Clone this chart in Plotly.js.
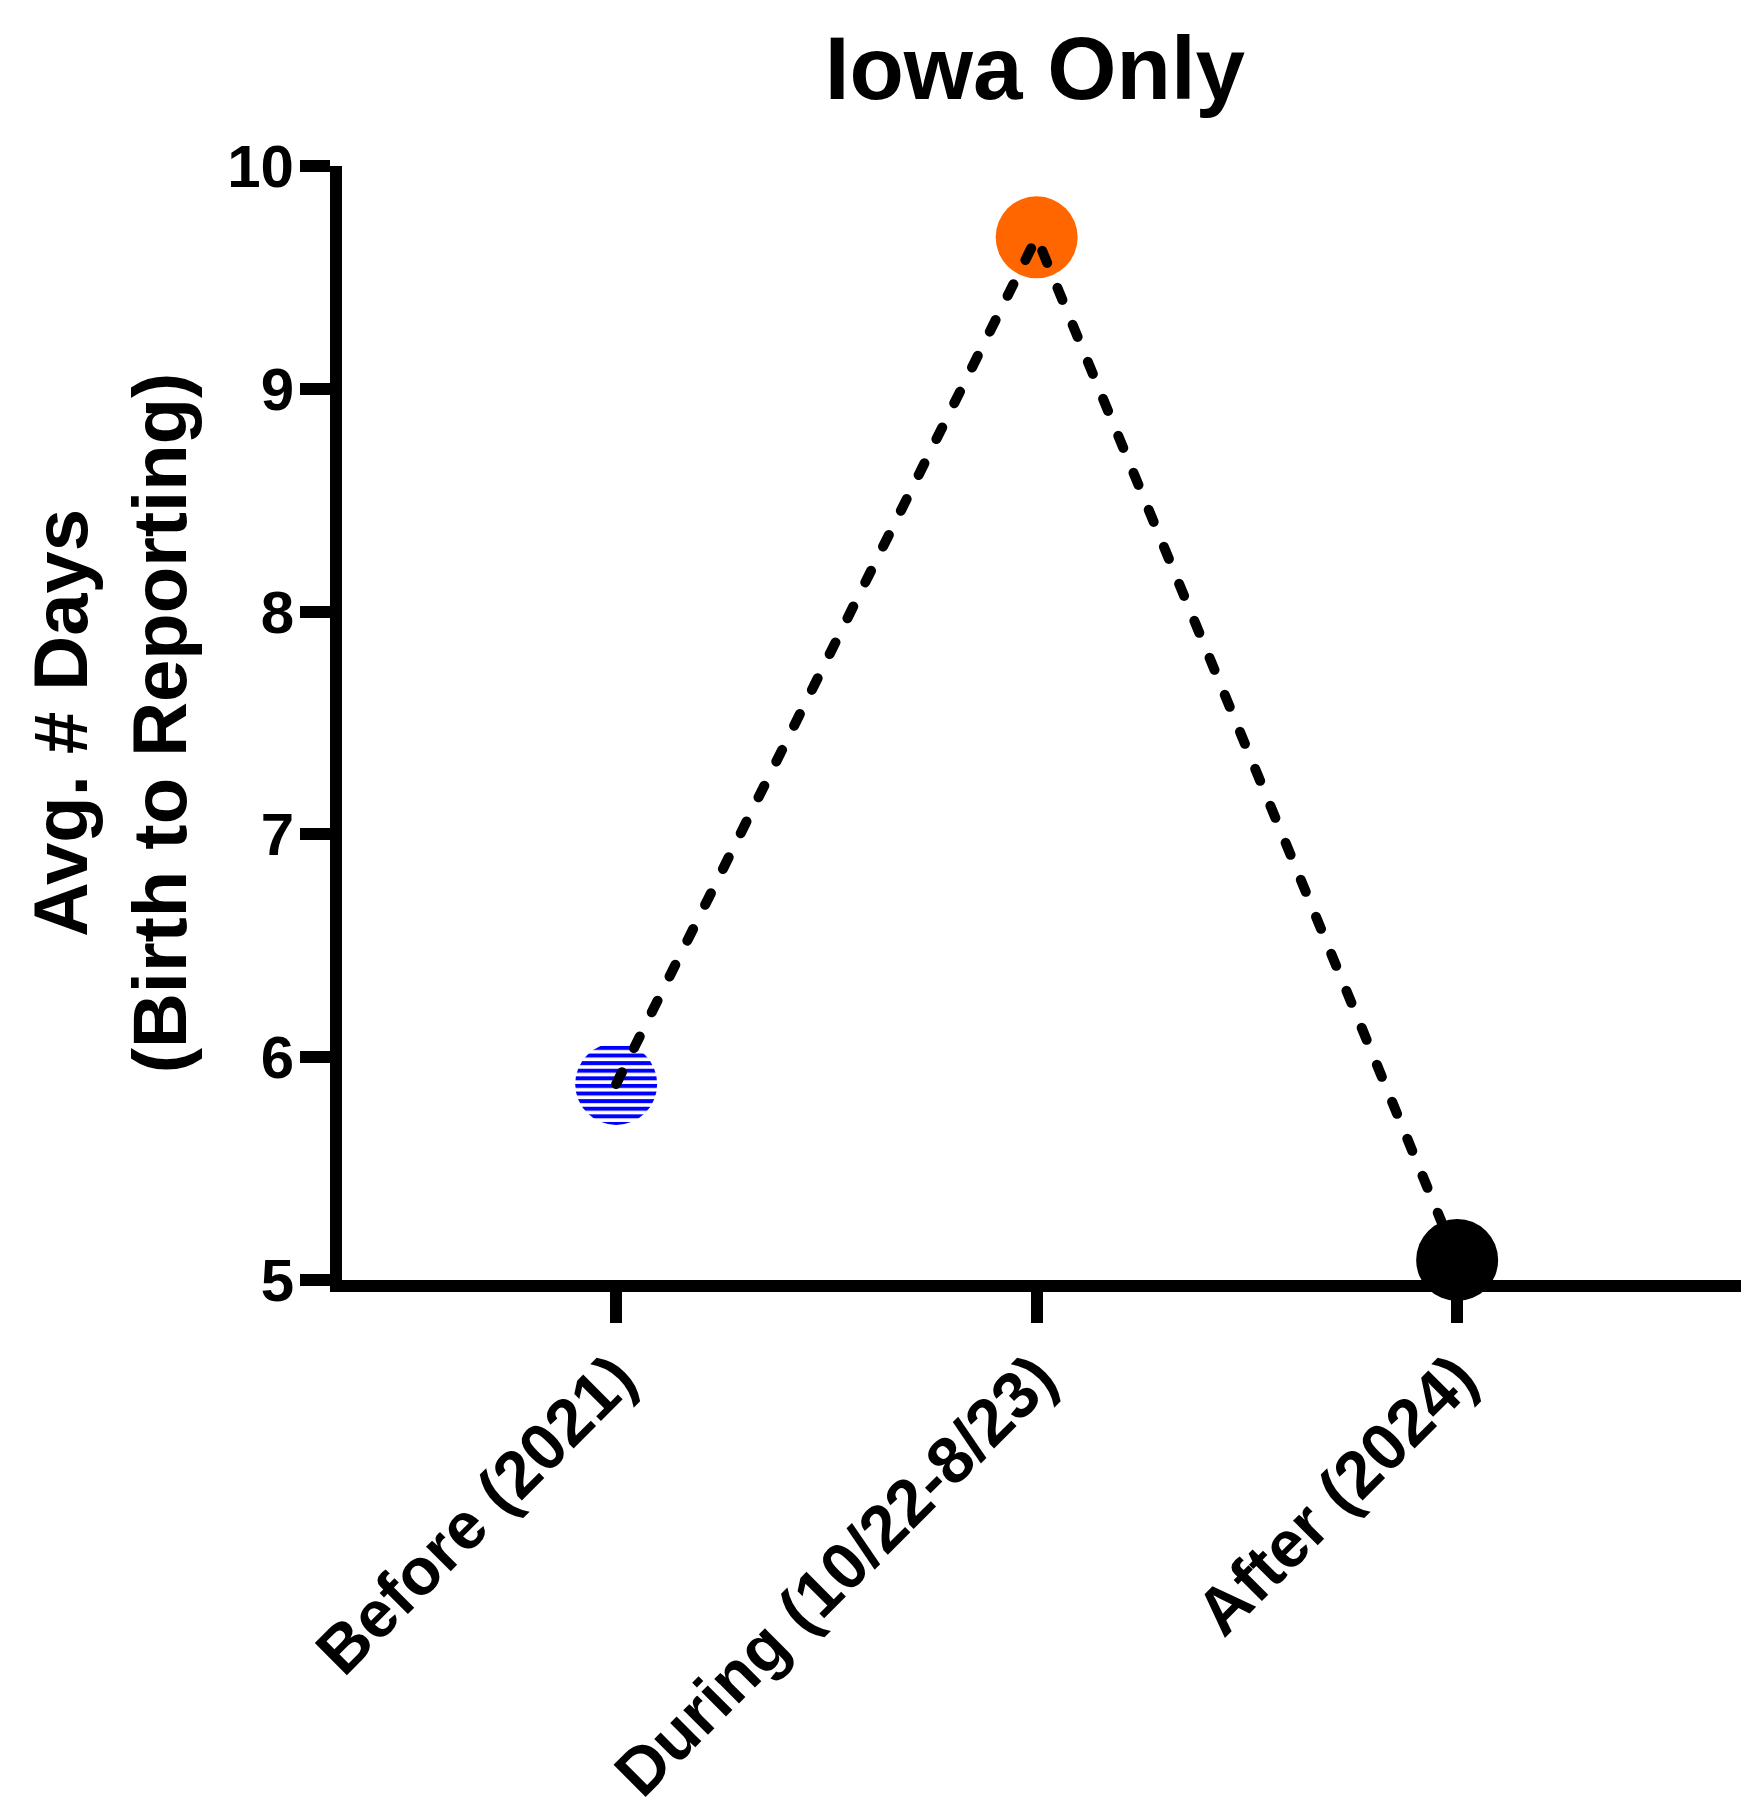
<!DOCTYPE html>
<html>
<head>
<meta charset="utf-8">
<script src="https://cdn.plot.ly/plotly-3.0.1.min.js"></script>
<style>
  html, body { margin: 0; padding: 0; background: #fff; }
  #chart { width: 1764px; height: 1817px; }
</style>
</head>
<body>
<div id="chart"></div>
<script>
// Iowa only - average days from birth to reporting
const periods = ['Before (2021)', 'During (10/22-8/23)', 'After (2024)'];
const avgDays = [5.88, 9.68, 5.09];
const pointColors = ['#0000ff', '#ff6600', '#000000'];
const yTicks = [5, 6, 7, 8, 9, 10];

const FONT = '"Liberation Sans", Arial, sans-serif';

// markers first, dashed line drawn on top of them
const markerTrace = {
    x: periods,
    y: avgDays,
    type: 'scatter',
    mode: 'markers',
    marker: {size: 82, color: pointColors, line: {width: 0}},
    cliponaxis: false,
    hoverinfo: 'x+y'
};

const lineTrace = {
    x: periods,
    y: avgDays,
    type: 'scatter',
    mode: 'lines',
    line: {color: '#000000', width: 10, dash: '13px,27px'},
    cliponaxis: false,
    hoverinfo: 'skip'
};

const layout = {
    width: 1764,
    height: 1817,
    paper_bgcolor: '#ffffff',
    plot_bgcolor: '#ffffff',
    showlegend: false,
    margin: {l: 342, r: 23, t: 166, b: 537},
    font: {family: FONT, color: '#000000'},
    title: {
        text: '<b>Iowa Only</b>',
        font: {family: FONT, size: 89, color: '#000000'},
        x: 0.5867, xref: 'container', xanchor: 'center',
        y: 0.9626, yref: 'container', yanchor: 'middle'
    },
    xaxis: {
        type: 'category',
        range: [-0.652, 2.675],
        showline: true, linecolor: '#000000', linewidth: 12,
        ticks: 'outside', ticklen: 31, tickwidth: 12, tickcolor: '#000000',
        tickangle: -45,
        ticklabelstandoff: -10,
        tickfont: {family: FONT, size: 66, color: '#000000', weight: 'bold'},
        showgrid: false, zeroline: false
    },
    yaxis: {
        range: [5, 10],
        tickvals: yTicks,
        ticktext: yTicks.map(String),
        showline: true, linecolor: '#000000', linewidth: 12,
        ticks: 'outside', ticklen: 30, tickwidth: 12, tickcolor: '#000000',
        ticklabelstandoff: -6,
        tickfont: {family: FONT, size: 60, color: '#000000', weight: 'bold'},
        showgrid: false, zeroline: false,
        title: {
            text: '<b>Avg. # Days</b><br><b>(Birth to Reporting)</b>',
            font: {family: FONT, size: 76, color: '#000000'},
            standoff: 21
        }
    }
};

Plotly.newPlot('chart', [markerTrace, lineTrace], layout, {staticPlot: true}).then(function (gd) {
    // horizontal blue stripes for the "Before" marker
    const svgNS = 'http://www.w3.org/2000/svg';
    const defs = gd.querySelector('.main-svg defs');
    const pat = document.createElementNS(svgNS, 'pattern');
    pat.setAttribute('id', 'blueStripes');
    pat.setAttribute('patternUnits', 'userSpaceOnUse');
    pat.setAttribute('width', '20');
    pat.setAttribute('height', '7.6');
    const rect = document.createElementNS(svgNS, 'rect');
    rect.setAttribute('x', '0');
    rect.setAttribute('y', '0');
    rect.setAttribute('width', '20');
    rect.setAttribute('height', '4');
    rect.setAttribute('fill', '#0000ff');
    pat.appendChild(rect);
    defs.appendChild(pat);

    const firstPoint = gd.querySelector('.scatterlayer .trace .points path');
    if (firstPoint) firstPoint.style.fill = 'url(#blueStripes)';

    // rounded dash ends
    gd.querySelectorAll('.scatterlayer .js-line').forEach(function (p) {
        p.style.strokeLinecap = 'round';
    });
});
</script>
</body>
</html>
